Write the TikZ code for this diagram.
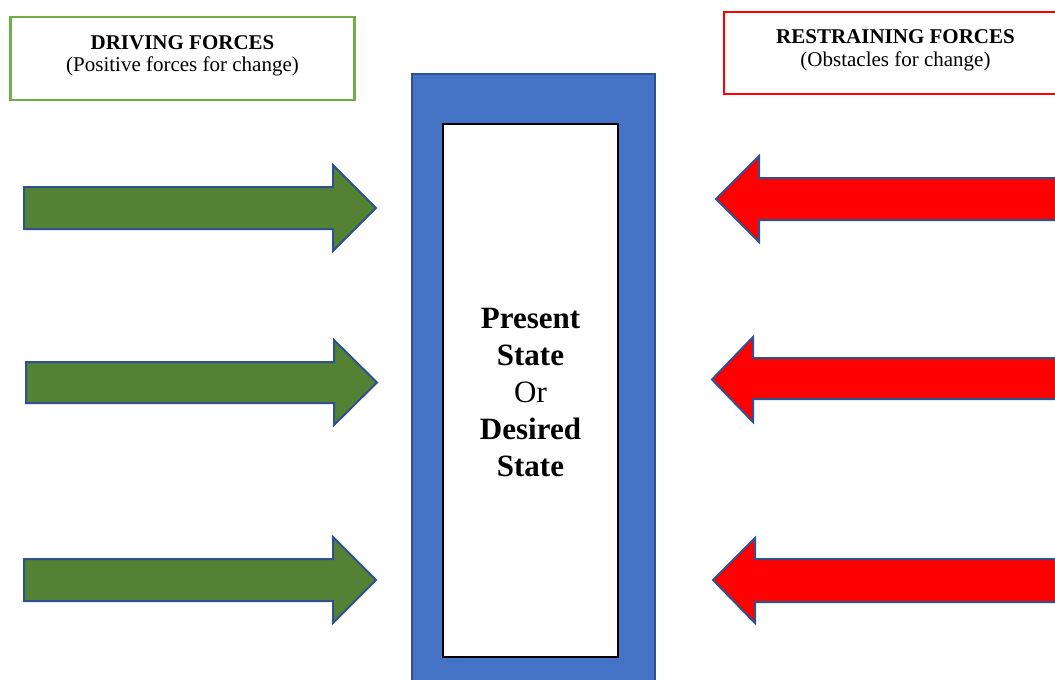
\documentclass[tikz,border=0pt]{standalone}
\usepackage{fontspec}
\setmainfont{Liberation Serif}
\definecolor{forcegreen}{HTML}{548235}
\definecolor{forcered}{HTML}{FF0000}
\definecolor{statefill}{HTML}{4472C4}
\definecolor{edgeblue}{HTML}{2F528F}
\definecolor{boxgreen}{HTML}{70AD47}
\tikzset{
  headbox/.style={draw, line width=2.2pt, fill=white, inner sep=0pt},
  headtitle/.style={anchor=base, font=\fontsize{21}{24}\selectfont\bfseries, inner sep=0pt},
  headsub/.style={anchor=base, font=\fontsize{21}{24}\selectfont, inner sep=0pt},
  pusharrow/.style={draw=edgeblue, line width=2pt, line join=miter},
  drivearrow/.style={pusharrow, fill=forcegreen},
  restrainarrow/.style={pusharrow, fill=forcered},
}
\begin{document}
\begin{tikzpicture}[x=1pt, y=-1pt]
  % canvas
  \fill[white] (0,0) rectangle (1055,680);
  \useasboundingbox (0,0) rectangle (1055,680);

  % heading boxes
  \node[headbox, draw=boxgreen, minimum width=344pt, minimum height=83pt] (drivebox) at (182.5,58.5) {};
  \node[headtitle] (drivetitle) at (182.5,49) {DRIVING FORCES};
  \node[headsub] (drivesub) at (182.5,71.5) {(Positive forces for change)};

  \node[headbox, draw=forcered, line width=2pt, minimum width=343pt, minimum height=82pt] (restrainbox) at (895.5,53) {};
  \node[headtitle] (restraintitle) at (895.5,43) {RESTRAINING FORCES};
  \node[headsub] (restrainsub) at (895.5,66) {(Obstacles for change)};

  % central state frame
  \node[draw=edgeblue, line width=1.5pt, fill=statefill, minimum width=243pt, minimum height=620pt, inner sep=0pt] (frame) at (533.5,384) {};
  \node[draw=black, line width=1.2pt, fill=white, minimum width=175pt, minimum height=533pt, inner sep=0pt] (state) at (530.5,390.5) {};
  \node[align=center, inner sep=0pt, font=\fontsize{31}{37}\selectfont] (statetext) at ([yshift=-2pt]state.center)
    {\textbf{Present}\\\textbf{State}\\Or\\\textbf{Desired}\\\textbf{State}};

  % driving forces
  \draw[drivearrow] (24,187) -- (333,187) -- (333,165) -- (376,208) -- (333,251) -- (333,229) -- (24,229) -- cycle;
  \draw[drivearrow] (26,362) -- (334,362) -- (334,340) -- (377,382.5) -- (334,425) -- (334,403) -- (26,403) -- cycle;
  \draw[drivearrow] (24,559) -- (333,559) -- (333,537) -- (376,580) -- (333,623) -- (333,601) -- (24,601) -- cycle;

  % restraining forces
  \draw[restrainarrow] (1065,178) -- (759,178) -- (759,156) -- (716,199) -- (759,242) -- (759,220) -- (1065,220) -- cycle;
  \draw[restrainarrow] (1065,358) -- (753,358) -- (753,337) -- (712,379.5) -- (753,422) -- (753,399) -- (1065,399) -- cycle;
  \draw[restrainarrow] (1065,559) -- (755,559) -- (755,538) -- (713,580) -- (755,623) -- (755,602) -- (1065,602) -- cycle;
\end{tikzpicture}
\end{document}
